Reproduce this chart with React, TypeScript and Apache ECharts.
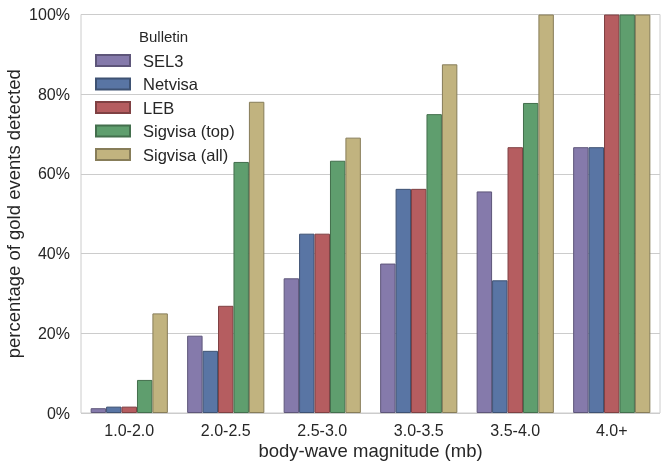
import React, { useEffect, useRef } from "react";
import * as echarts from "echarts";

const categories = ["1.0-2.0", "2.0-2.5", "2.5-3.0", "3.0-3.5", "3.5-4.0", "4.0+"];
const seriesNames = ["SEL3", "Netvisa", "LEB", "Sigvisa (top)", "Sigvisa (all)"];
const sel3 = [1.2, 19.4, 33.8, 37.5, 55.6, 66.7];
const netvisa = [1.6, 15.6, 45.0, 56.25, 33.3, 66.7];
const leb = [1.6, 26.9, 45.0, 56.25, 66.7, 100];
const sigvisaTop = [8.3, 63.0, 63.3, 75.0, 77.8, 100];
const sigvisaAll = [25.0, 78.1, 69.1, 87.5, 100, 100];
const yTicks = [0, 20, 40, 60, 80, 100];

const fills = ["#857aab", "#5975a4", "#b55d60", "#5f9e6e", "#c1b37f"];
const edges = ["#5e567a", "#3e5273", "#7f4143", "#436f4d", "#877d59"];
const FONT = "Liberation Sans, Arial, sans-serif";

export default function App() {
  const ref = useRef<HTMLDivElement>(null);
  useEffect(() => {
    if (!ref.current) return;
    const chart = echarts.init(ref.current, null, { renderer: "svg" });
    const all = [sel3, netvisa, leb, sigvisaTop, sigvisaAll];
    chart.setOption({
      animation: false,
      textStyle: { fontFamily: FONT },
      title: {
        text: "Bulletin",
        left: 134,
        top: 24,
        textStyle: { fontFamily: FONT, fontSize: 15, fontWeight: "normal", color: "#262626" },
      },
      legend: {
        orient: "vertical",
        left: 90,
        top: 47,
        itemWidth: 34,
        itemHeight: 11,
        itemGap: 6.5,
        icon: "rect",
        data: seriesNames,
        textStyle: {
          fontFamily: FONT,
          fontSize: 16.5,
          color: "#262626",
          lineHeight: 16,
          padding: [0, 0, 0, 8],
        },
      },
      grid: {
        left: 81,
        right: 7,
        top: 14.5,
        bottom: 53,
        outerBoundsMode: "none",
        containLabel: false,
        show: true,
        borderColor: "#cccccc",
        borderWidth: 1,
        backgroundColor: "transparent",
      },
      xAxis: {
        type: "category",
        data: categories,
        axisLine: { show: false },
        axisTick: { show: false },
        axisLabel: { fontFamily: FONT, fontSize: 16, color: "#262626", margin: 9 },
        name: "body-wave magnitude (mb)",
        nameLocation: "middle",
        nameGap: 28,
        nameMoveOverlap: false,
        nameTextStyle: { fontFamily: FONT, fontSize: 18.5, color: "#262626" },
      },
      yAxis: {
        type: "value",
        min: yTicks[0],
        max: yTicks[yTicks.length - 1],
        interval: 20,
        axisLine: { show: false },
        axisTick: { show: false },
        splitLine: { lineStyle: { color: "#cccccc", width: 1 } },
        axisLabel: {
          fontFamily: FONT,
          fontSize: 16,
          color: "#262626",
          margin: 11,
          formatter: "{value}%",
        },
        name: "percentage of gold events detected",
        nameLocation: "middle",
        nameGap: 58,
        nameMoveOverlap: false,
        nameTextStyle: { fontFamily: FONT, fontSize: 18.5, color: "#262626" },
      },
      series: seriesNames.map((name, i) => ({
        name,
        type: "bar",
        data: all[i],
        barGap: "0%",
        barCategoryGap: "20%",
        itemStyle: { color: fills[i], borderColor: edges[i], borderWidth: 1 },
        emphasis: { disabled: true },
      })),
    });
    return () => chart.dispose();
  }, []);
  return (
    <div
      ref={ref}
      style={{ position: "fixed", left: 0, top: 0, width: 667, height: 466 }}
    />
  );
}
